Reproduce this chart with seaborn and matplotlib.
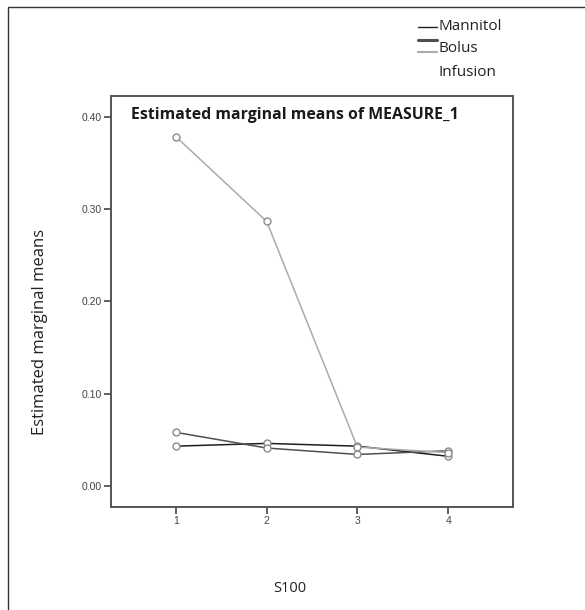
import matplotlib
matplotlib.use("Agg")
import matplotlib.pyplot as plt
import seaborn as sns
import pandas as pd
from matplotlib.lines import Line2D
from matplotlib.patches import Rectangle

s100 = [1, 2, 3, 4]
mannitol = [0.043, 0.046, 0.043, 0.032]
bolus = [0.058, 0.041, 0.034, 0.038]
infusion = [0.379, 0.287, 0.042, 0.036]
groups = ["Mannitol", "Bolus", "Infusion"]
y_ticks = [0.00, 0.10, 0.20, 0.30, 0.40]

df = pd.DataFrame({
    "S100": s100 * 3,
    "mean": mannitol + bolus + infusion,
    "group": [g for g in groups for _ in s100],
})

sns.set_style("white")
plt.rcParams['font.family'] = ['Open Sans', 'DejaVu Sans']

fig = plt.figure(figsize=(5.85, 6.10), dpi=100)
ax = fig.add_axes([0.1897, 0.1689, 0.6872, 0.6737])

palette = {"Mannitol": "#1e1e1e", "Bolus": "#505050", "Infusion": "#ababab"}
sns.lineplot(data=df, x="S100", y="mean", hue="group", palette=palette,
             marker="o", markersize=5, markerfacecolor="white",
             markeredgewidth=1.0, linewidth=1.1, legend=False, ax=ax)
for line in ax.lines:
    line.set_markeredgecolor("#8a8a8a")

ax.set_xlim(0.286, 4.714)
ax.set_ylim(-0.023, 0.423)
ax.set_xticks(s100)
ax.set_xticklabels([str(v) for v in s100], fontsize=7.5, family=['Liberation Sans'], color="#444444")
ax.set_yticks(y_ticks)
ax.set_yticklabels([f"{v:.2f}" for v in y_ticks], fontsize=7.5, family=['Liberation Sans'], color="#444444")
ax.tick_params(axis="both", direction="out", length=5, width=1.2, color="#444444",
               bottom=True, left=True, pad=1.5)
for sp in ax.spines.values():
    sp.set_visible(True)
    sp.set_color("#555555")
    sp.set_linewidth(1.4)
ax.set_xlabel("")
ax.set_ylabel("")

ax.text(0.05, 0.955, "Estimated marginal means of MEASURE_1", transform=ax.transAxes,
        fontsize=11.4, fontweight="bold", color="#1a1a1a", va="center", ha="left")

fig.text(40 / 585, 1 - 332 / 610, "Estimated marginal means", rotation=90,
         fontsize=12, color="#222222", ha="center", va="center")
fig.text(290 / 585, 1 - 588 / 610, "S100", fontsize=10.5, color="#222222",
         ha="center", va="center")

# legend (manual, as in reference)
def fx(x):
    return x / 585
def fy(y):
    return 1 - y / 610
fig.add_artist(Line2D([fx(418), fx(437)], [fy(27), fy(27)], color=palette["Mannitol"], lw=1.0))
fig.add_artist(Line2D([fx(418), fx(437)], [fy(40), fy(40)], color=palette["Bolus"], lw=2.2))
fig.add_artist(Line2D([fx(418), fx(437)], [fy(52), fy(52)], color=palette["Infusion"], lw=1.5))
fig.text(fx(438), fy(27), "Mannitol", fontsize=11, color="#222222", va="center", ha="left")
fig.text(fx(438), fy(48), "Bolus", fontsize=11, color="#222222", va="center", ha="left")
fig.text(fx(438), fy(72), "Infusion", fontsize=11, color="#222222", va="center", ha="left")

# outer frame
fig.add_artist(Rectangle((fx(8), -0.1), 1.2, fy(7) + 0.1, transform=fig.transFigure,
                         fill=False, edgecolor="#333333", lw=1.0))

fig.savefig("out.png", dpi=100)
